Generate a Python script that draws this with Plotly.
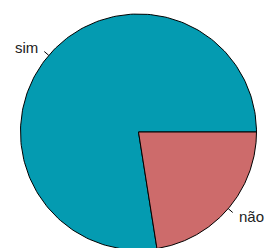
import numpy as np
import plotly.graph_objects as go

labels = ["sim", "não"]
values = [77.5, 22.5]
colors = ["#049BB1", "#CD6B6B"]

W, H = 271, 248
R_PX = 118.0
CX, CY = 138.5, 132.0

fig = go.Figure()
total = float(sum(values))
start = 0.0
for lab, v, col in zip(labels, values, colors):
    frac = v / total
    a0, a1 = start * 2 * np.pi, (start + frac) * 2 * np.pi
    t = np.linspace(a0, a1, 200)
    xs = np.concatenate([[0], np.cos(t), [0]])
    ys = np.concatenate([[0], np.sin(t), [0]])
    fig.add_trace(go.Scatter(x=xs, y=ys, mode="lines", fill="toself",
                             fillcolor=col, line=dict(color="black", width=1),
                             hoverinfo="skip", showlegend=False))
    mid = (a0 + a1) / 2
    c, s = np.cos(mid), np.sin(mid)
    fig.add_trace(go.Scatter(x=[c, 1.05 * c], y=[s, 1.05 * s], mode="lines",
                             line=dict(color="black", width=1),
                             hoverinfo="skip", showlegend=False))
    fig.add_annotation(x=1.1 * c, y=1.1 * s, text=lab, showarrow=False,
                       xanchor="left" if c > 0 else "right", yanchor="middle",
                       font=dict(family="Liberation Sans, Arial, sans-serif", size=15, color="#222222"))
    start += frac

xr = [-CX / R_PX, (W - CX) / R_PX]
yr = [-(H - CY) / R_PX, CY / R_PX]
fig.update_xaxes(range=xr, visible=False)
fig.update_yaxes(range=yr, visible=False)
fig.update_layout(width=W, height=H, margin=dict(l=0, r=0, t=0, b=0),
                  plot_bgcolor="white", paper_bgcolor="white")
fig.write_html("out.html", config={"displayModeBar": False},
               post_script="document.body.style.margin='0';document.body.style.overflow='hidden';")
